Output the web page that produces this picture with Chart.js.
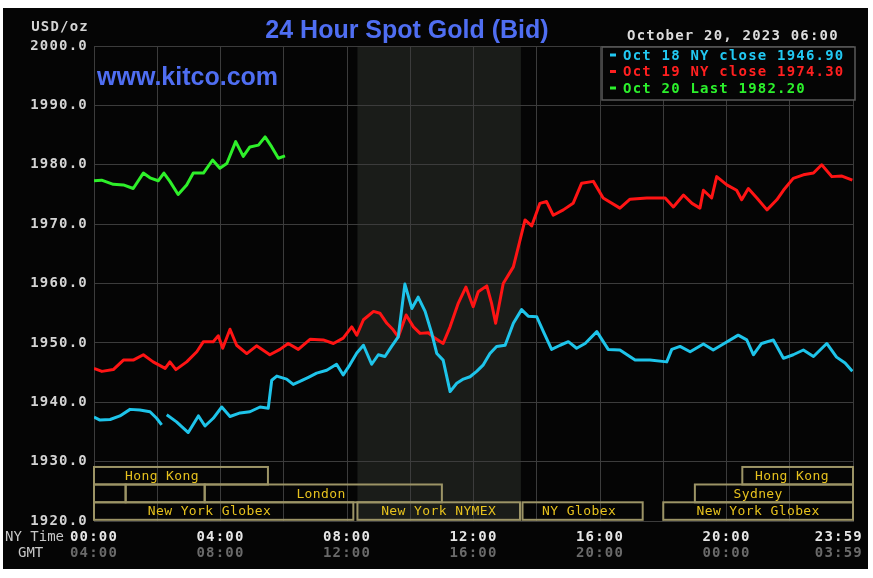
<!DOCTYPE html>
<html><head><meta charset="utf-8">
<script src="https://cdn.jsdelivr.net/npm/chart.js@4.4.0/dist/chart.umd.min.js"></script>
<style>html,body{margin:0;padding:0;background:#fff;}canvas{position:absolute;left:0;top:0;}</style>
</head><body>
<canvas id="c" width="873" height="578"></canvas>
<script>
// ---------- DATA ----------
const seriesLabels = ['Oct 18 NY close 1946.90', 'Oct 19 NY close 1974.30', 'Oct 20 Last 1982.20'];

const cyanTimes = [0.00,0.19,0.51,0.82,1.14,1.45,1.77,1.98,2.14,2.22,2.30,2.61,2.98,3.30,3.51,3.77,4.04,4.30,4.62,4.93,5.25,5.51,5.62,5.78,6.09,6.30,6.51,6.78,7.04,7.36,7.67,7.88,8.09,8.31,8.52,8.78,8.99,9.20,9.41,9.62,9.83,10.05,10.25,10.47,10.68,10.84,11.04,11.26,11.47,11.68,11.89,12.10,12.31,12.52,12.73,13.00,13.26,13.52,13.73,14.00,14.21,14.47,14.74,15.00,15.26,15.53,15.90,16.26,16.63,17.11,17.58,18.11,18.27,18.53,18.85,19.27,19.58,19.90,20.37,20.64,20.85,21.11,21.48,21.80,22.11,22.43,22.75,23.17,23.48,23.75,23.98];
const cyanValues = [1937.5,1937.0,1937.1,1937.7,1938.8,1938.7,1938.4,1937.3,1936.2,null,1937.9,1936.7,1934.9,1937.7,1936.0,1937.3,1939.2,1937.6,1938.2,1938.4,1939.2,1939.0,1943.7,1944.4,1943.9,1943.0,1943.5,1944.2,1944.9,1945.4,1946.4,1944.6,1946.3,1948.3,1949.6,1946.4,1948.0,1947.7,1949.4,1951.0,1959.9,1955.8,1957.7,1955.3,1951.6,1948.2,1947.1,1941.8,1943.2,1943.9,1944.3,1945.2,1946.3,1948.2,1949.4,1949.6,1953.3,1955.6,1954.5,1954.4,1951.9,1948.9,1949.6,1950.2,1949.1,1949.9,1951.9,1948.9,1948.8,1947.1,1947.1,1946.8,1948.9,1949.4,1948.5,1949.8,1948.8,1949.8,1951.3,1950.5,1948.0,1949.9,1950.5,1947.4,1948.0,1948.8,1947.7,1949.9,1947.6,1946.6,1945.2];

const redTimes = [0.00,0.25,0.61,0.93,1.24,1.56,1.87,2.25,2.40,2.59,2.93,3.25,3.46,3.77,3.93,4.07,4.30,4.51,4.83,5.14,5.56,5.88,6.14,6.46,6.83,7.25,7.57,7.88,8.15,8.31,8.52,8.84,9.04,9.26,9.46,9.62,9.87,10.10,10.31,10.57,10.78,11.04,11.26,11.52,11.76,11.99,12.15,12.42,12.57,12.70,12.94,13.26,13.42,13.63,13.84,14.10,14.31,14.52,14.84,15.15,15.42,15.79,16.10,16.63,16.95,17.48,18.06,18.32,18.64,18.91,19.16,19.27,19.53,19.69,20.01,20.32,20.48,20.69,20.96,21.28,21.59,21.80,22.11,22.43,22.75,23.01,23.33,23.65,23.98];
const redValues = [1945.7,1945.2,1945.5,1947.1,1947.1,1948.0,1946.8,1945.7,1946.8,1945.5,1946.8,1948.5,1950.2,1950.2,1951.2,1949.1,1952.3,1949.6,1948.2,1949.5,1948.0,1948.9,1949.9,1948.9,1950.6,1950.5,1949.9,1950.8,1952.7,1951.3,1953.9,1955.3,1955.0,1953.3,1952.2,1951.0,1954.7,1952.7,1951.6,1951.7,1950.8,1949.9,1952.7,1956.7,1959.4,1956.1,1958.6,1959.6,1956.7,1953.3,1960.0,1962.8,1966.2,1970.7,1969.7,1973.5,1973.8,1971.5,1972.4,1973.5,1976.9,1977.2,1974.4,1972.7,1974.2,1974.4,1974.4,1972.9,1974.9,1973.5,1972.7,1975.7,1974.4,1978.0,1976.6,1975.7,1974.1,1976.0,1974.4,1972.4,1974.1,1975.7,1977.7,1978.3,1978.6,1980.0,1978.0,1978.1,1977.4];

const greenTimes = [0.00,0.24,0.61,0.93,1.24,1.56,1.77,2.03,2.21,2.40,2.66,2.93,3.14,3.46,3.75,3.98,4.20,4.48,4.72,4.93,5.20,5.41,5.62,5.83,6.04];
const greenValues = [1977.3,1977.4,1976.7,1976.6,1976.0,1978.6,1977.8,1977.3,1978.6,1977.2,1975.0,1976.6,1978.6,1978.6,1980.8,1979.4,1980.2,1983.9,1981.4,1983.0,1983.3,1984.7,1983.0,1981.1,1981.5];

const yTicks = [1920,1930,1940,1950,1960,1970,1980,1990,2000];
const timeTicks = [0,4,8,12,16,20,23.983];
const nyLabels = ['00:00','04:00','08:00','12:00','16:00','20:00','23:59'];
const gmtLabels = ['04:00','08:00','12:00','16:00','20:00','00:00','03:59'];

const shadeStart = 8.33, shadeEnd = 13.5;   // NYMEX trading hours (hours)

const sessionNames = ['Hong Kong','Hong Kong','','','London','Sydney','New York Globex','New York NYMEX','NY Globex','New York Globex'];
const sessionRow   = [0,0,1,1,1,1,2,2,2,2];
const sessionStart = [0,20.5,0,1,3.5,19,0,8.33,13.55,18.0];
const sessionEnd   = [5.5,24,1,3.5,11,24,8.2,13.47,17.35,24];
const sessionLabelAt = [2.15,22.07,null,null,7.18,21.0,3.65,10.9,15.34,21.0];
const rowTop = [1929.1,1926.15,1923.15];
const rowBottom = [1926.15,1923.15,1920.2];

// ---------- CHART ----------
const MONO = '"DejaVu Sans Mono", monospace';
const SANS = '"Liberation Sans", Arial, sans-serif';
const colors = ['#1ec4ea','#ff1414','#2ef02a'];
const textColors = ['#22c8f2','#ff2020','#2cf02c'];
const toPts = (t,v) => t.map((x,i)=>({x:x, y:v[i]}));

const deco = {
  id:'deco',
  beforeDraw(chart){
    const {ctx, chartArea:a, scales:{x}} = chart;
    ctx.save();
    ctx.fillStyle='#ffffff'; ctx.fillRect(0,0,873,578);
    ctx.fillStyle='#050505'; ctx.fillRect(3,8,865,561);
    const x0=x.getPixelForValue(shadeStart), x1=x.getPixelForValue(shadeEnd);
    ctx.fillStyle='#1a1c19';
    ctx.fillRect(x0,a.top,x1-x0,a.bottom-a.top);
    ctx.restore();
    ctx.letterSpacing='1.2px';
  },
  afterDraw(chart){
    const {ctx, scales:{x,y}} = chart;
    ctx.save();
    // sessions
    ctx.lineWidth=2; ctx.strokeStyle='#9c9466';
    ctx.font='13px '+MONO; ctx.letterSpacing='0.4px';
    ctx.fillStyle='#e6c11e'; ctx.textAlign='center'; ctx.textBaseline='middle';
    sessionNames.forEach((nm,i)=>{
      const r=sessionRow[i];
      const x0=x.getPixelForValue(sessionStart[i]), x1=x.getPixelForValue(sessionEnd[i]);
      const y0=y.getPixelForValue(rowTop[r]), y1=y.getPixelForValue(rowBottom[r]);
      ctx.strokeRect(x0,y0,x1-x0,y1-y0);
      if(nm) ctx.fillText(nm, x.getPixelForValue(sessionLabelAt[i]), (y0+y1)/2+1);
    });
    // legend box
    ctx.fillStyle='#050505'; ctx.fillRect(602,47,253,53);
    ctx.strokeStyle='#5a5a5a'; ctx.lineWidth=1.5; ctx.strokeRect(602,47,253,53);
    ctx.font='bold 14px '+MONO; ctx.letterSpacing='1.2px';
    ctx.textAlign='left';
    chart.data.datasets.forEach((ds,i)=>{
      const yy=55+i*16.5;
      ctx.fillStyle=textColors[i];
      ctx.fillRect(610,yy-1.5,6,3);
      ctx.fillText(ds.label,623,yy+1);
    });
    // date
    ctx.fillStyle='#dcdcdc';
    ctx.fillText('October 20, 2023 06:00',627,36);
    // units
    ctx.fillStyle='#d4d4d4'; ctx.textAlign='right';
    ctx.fillText('USD/oz',89,27);
    // time labels
    timeTicks.forEach((t,i)=>{
      const px=x.getPixelForValue(t);
      const last=i===timeTicks.length-1;
      ctx.textAlign=last?'right':'center';
      const tx=last?863:px;
      ctx.fillStyle='#e6e6e6'; ctx.fillText(nyLabels[i],tx,537);
      ctx.fillStyle='#6a6a6a'; ctx.fillText(gmtLabels[i],tx,553);
    });
    ctx.font='14px '+MONO; ctx.letterSpacing='0px'; ctx.textAlign='left';
    ctx.fillStyle='#c8c8c8';
    ctx.fillText('NY Time',5,537);
    ctx.fillText('GMT',18,553);
    // title & site
    ctx.font='bold 25px '+SANS; ctx.textBaseline='alphabetic';
    ctx.fillStyle='#4f6ef2'; ctx.textAlign='center';
    ctx.fillText('24 Hour Spot Gold (Bid)',407,38);
    ctx.textAlign='left';
    ctx.fillText('www.kitco.com',97,85);
    ctx.restore();
  }
};

new Chart(document.getElementById('c'), {
  type:'line',
  data:{datasets:[
    {label:seriesLabels[0], data:toPts(cyanTimes,cyanValues), borderColor:colors[0]},
    {label:seriesLabels[1], data:toPts(redTimes,redValues), borderColor:colors[1]},
    {label:seriesLabels[2], data:toPts(greenTimes,greenValues), borderColor:colors[2]}
  ]},
  options:{
    responsive:false, animation:false, devicePixelRatio:1,
    parsing:true, spanGaps:false,
    elements:{line:{borderWidth:3, tension:0, fill:false, borderJoinStyle:'round'}, point:{radius:0, hoverRadius:0}},
    layout:{padding:{left:0, top:46, right:20, bottom:57}},
    plugins:{legend:{display:false}, title:{display:false}, tooltip:{enabled:false}},
    scales:{
      x:{type:'linear', min:0, max:24,
         ticks:{display:false, stepSize:2, autoSkip:false},
         grid:{color:'#3c3c3c', lineWidth:1, drawTicks:false},
         border:{display:true, color:'#3c3c3c'},
         afterFit(s){ s.height=0; s.paddingLeft=0; s.paddingRight=0; }},
      y:{type:'linear', min:1920, max:2000,
         afterBuildTicks(s){ s.ticks = yTicks.map(v=>({value:v})); },
         ticks:{color:'#d4d4d4', padding:6, font:{family:'DejaVu Sans Mono', size:14, weight:'bold'},
                callback:v=>Number(v).toFixed(1)},
         grid:{color:'#3c3c3c', lineWidth:1, drawTicks:false},
         border:{display:true, color:'#3c3c3c'},
         afterFit(s){ s.width=94; s.paddingTop=0; s.paddingBottom=0; }}
    }
  },
  plugins:[deco]
});
</script>
</body></html>
